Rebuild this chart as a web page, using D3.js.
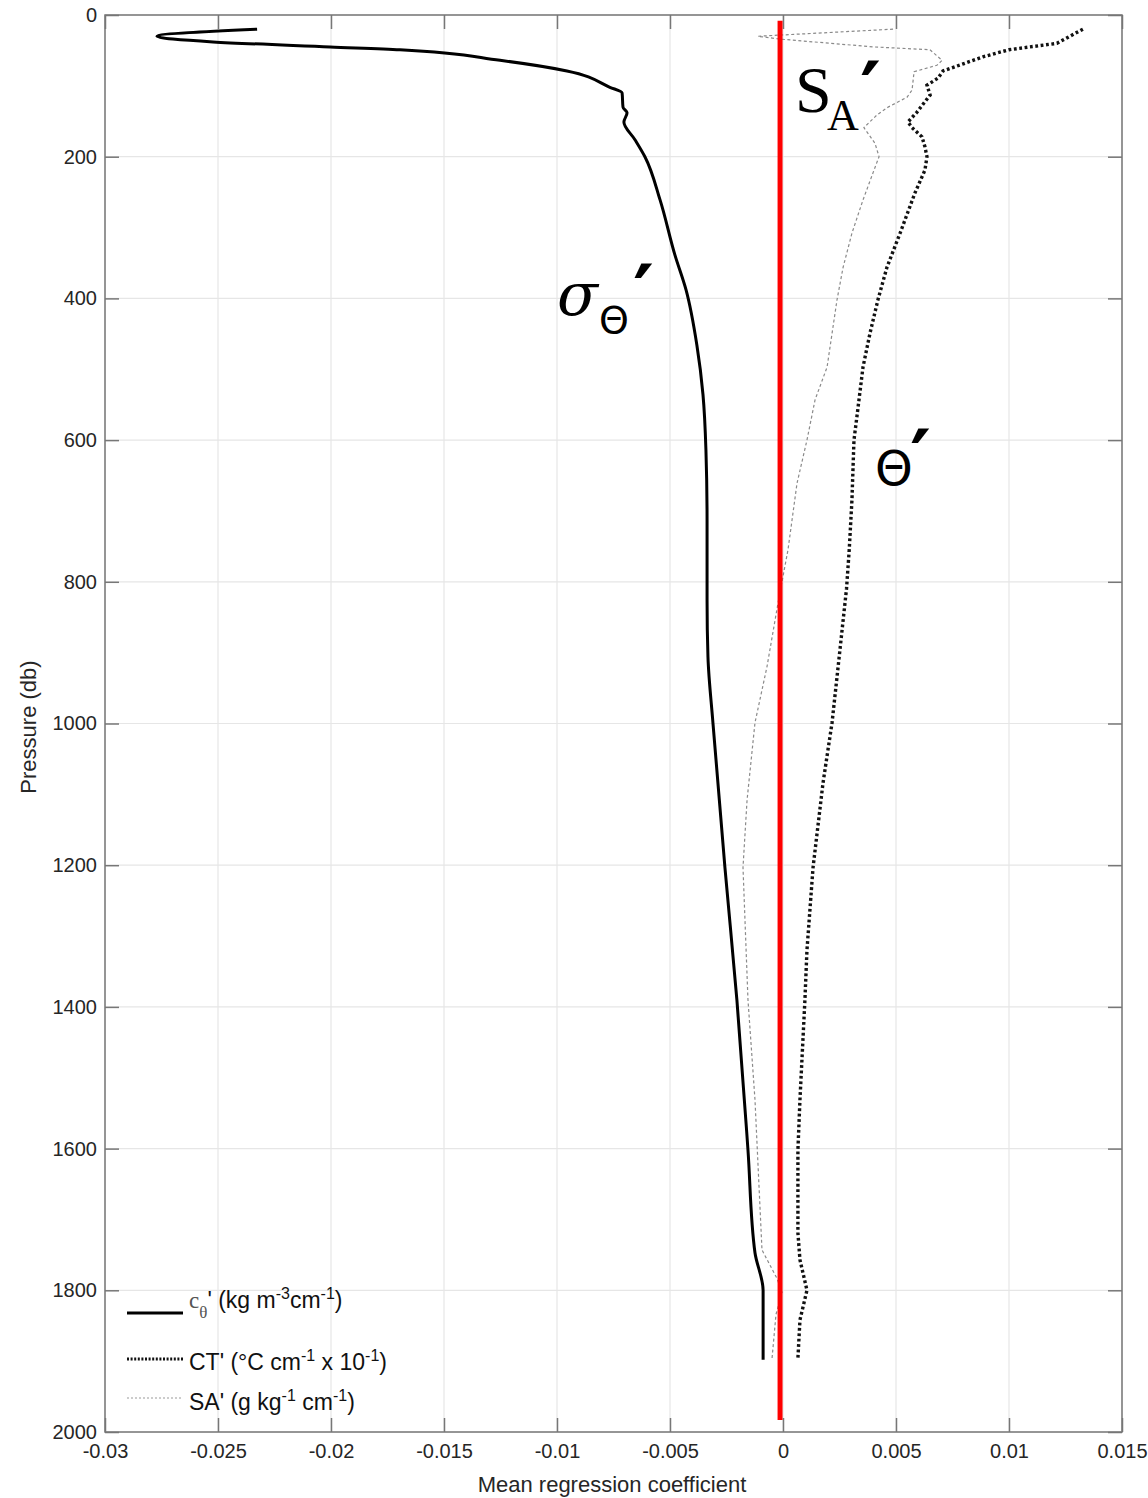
<!DOCTYPE html>
<html>
<head>
<meta charset="utf-8">
<script src="https://cdn.jsdelivr.net/npm/d3@7"></script>
<style>
  body { margin: 0; background: #fff; }
</style>
</head>
<body>
<div class="canvas"></div>
<script>
// tick labels
const xTicks = [-0.03, -0.025, -0.02, -0.015, -0.01, -0.005, 0, 0.005, 0.01, 0.015];
const xTickLabels = ['-0.03', '-0.025', '-0.02', '-0.015', '-0.01', '-0.005', '0', '0.005', '0.01', '0.015'];
const yTicks = [0, 200, 400, 600, 800, 1000, 1200, 1400, 1600, 1800, 2000];

// sigma-theta' (solid)
const sigmaP = [20, 30, 38, 45, 49, 64, 79, 102, 110, 130, 138, 151, 176, 200, 261, 339, 388, 466, 536, 614, 713, 826, 906, 999, 1203, 1390, 1602, 1747, 1800, 1898];
const sigmaV = [-0.02327, -0.0277, -0.02522, -0.02004, -0.01695, -0.01252, -0.00956, -0.00766, -0.00712, -0.00708, -0.0069, -0.00704, -0.00655, -0.00611, -0.00544, -0.00478, -0.00429, -0.00381, -0.00354, -0.00341, -0.00336, -0.00336, -0.00332, -0.0031, -0.00257, -0.00204, -0.00155, -0.00124, -0.00088, -0.00088];

// CT' (dotted)
const ctP = [20, 40, 49, 59, 69, 79, 89, 99, 113, 137, 151, 159, 172, 186, 200, 219, 251, 308, 356, 402, 449, 497, 567, 600, 685, 755, 810, 896, 999, 1084, 1203, 1320, 1390, 1531, 1602, 1719, 1757, 1800, 1842, 1896];
const ctV = [0.01327, 0.01212, 0.01, 0.00885, 0.00797, 0.00708, 0.00686, 0.00637, 0.00651, 0.00593, 0.00553, 0.00571, 0.00615, 0.00628, 0.00637, 0.00628, 0.00584, 0.00518, 0.0046, 0.0042, 0.00385, 0.00354, 0.00327, 0.00314, 0.00305, 0.00293, 0.00281, 0.00252, 0.00217, 0.00177, 0.00133, 0.00106, 0.00097, 0.00075, 0.00066, 0.00066, 0.00075, 0.00106, 0.00075, 0.00066];

// SA' (thin dashed grey)
const saP = [20, 30, 34, 45, 49, 64, 71, 80, 106, 116, 130, 141, 159, 181, 200, 223, 261, 308, 356, 402, 497, 543, 600, 661, 755, 830, 920, 999, 1108, 1203, 1390, 1531, 1743, 1783, 1803, 1834, 1898];
const saV = [0.00487, -0.00111, -0.00013, 0.00398, 0.0065, 0.00704, 0.00681, 0.0058, 0.00571, 0.00549, 0.00465, 0.00416, 0.00358, 0.00407, 0.00425, 0.00398, 0.00354, 0.00305, 0.00266, 0.00239, 0.00195, 0.00142, 0.00106, 0.00062, 0.00022, -0.00022, -0.00071, -0.00124, -0.00159, -0.00177, -0.00155, -0.00124, -0.00093, -0.00027, -0.00004, -0.00031, -0.00049];

// red reference line
const refX = -0.00013;
const refP = [8, 1983];

const svg = d3.select('.canvas')
  .append('svg')
  .attr('width', 1148)
  .attr('height', 1498)
  .attr('font-family', '"Liberation Sans", Arial, sans-serif');

const plotL = 105, plotR = 1122, plotT = 15, plotB = 1432;

const x = d3.scaleLinear().domain([-0.03, 0.015]).range([plotL, plotR]);
const y = d3.scaleLinear().domain([0, 2000]).range([plotT, plotB]);

// grid
const grid = svg.append('g');
grid.selectAll('line.gx').data(xTicks).enter().append('line')
  .attr('x1', d => x(d)).attr('x2', d => x(d))
  .attr('y1', plotT).attr('y2', plotB)
  .attr('stroke', '#e6e6e6').attr('stroke-width', 1.2);
grid.selectAll('line.gy').data(yTicks).enter().append('line')
  .attr('x1', plotL).attr('x2', plotR)
  .attr('y1', d => y(d)).attr('y2', d => y(d))
  .attr('stroke', '#e6e6e6').attr('stroke-width', 1.2);

// axes (ticks pointing inwards)
const xAxis = d3.axisBottom(x).tickValues(xTicks)
  .tickFormat((d, i) => xTickLabels[i]).tickSizeInner(-14).tickSizeOuter(0).tickPadding(12);
const yAxis = d3.axisLeft(y).tickValues(yTicks).tickFormat(d3.format('d'))
  .tickSizeInner(-14).tickSizeOuter(0).tickPadding(8);
const xTop = d3.axisTop(x).tickValues(xTicks).tickFormat('').tickSizeInner(-14).tickSizeOuter(0);
const yRight = d3.axisRight(y).tickValues(yTicks).tickFormat('').tickSizeInner(-14).tickSizeOuter(0);

const styleAxis = g => {
  g.select('.domain').remove();
  g.selectAll('line').attr('stroke', '#777').attr('stroke-width', 1.5);
  g.selectAll('text').attr('fill', '#262626').attr('font-size', 20)
    .attr('font-family', '"Liberation Sans", Arial, sans-serif');
};

svg.append('g').attr('transform', `translate(0, ${plotB})`).call(xAxis).call(styleAxis);
svg.append('g').attr('transform', `translate(${plotL}, 0)`).call(yAxis).call(styleAxis);
svg.append('g').attr('transform', `translate(0, ${plotT})`).call(xTop).call(styleAxis);
svg.append('g').attr('transform', `translate(${plotR}, 0)`).call(yRight).call(styleAxis);

svg.append('rect')
  .attr('x', plotL).attr('y', plotT)
  .attr('width', plotR - plotL).attr('height', plotB - plotT)
  .attr('fill', 'none').attr('stroke', '#777').attr('stroke-width', 1.5);

// axis titles
svg.append('text')
  .attr('x', 612).attr('y', 1492)
  .attr('text-anchor', 'middle').attr('font-size', 22).attr('fill', '#262626')
  .text('Mean regression coefficient');
svg.append('text')
  .attr('transform', 'translate(36, 727) rotate(-90)')
  .attr('text-anchor', 'middle').attr('font-size', 22).attr('fill', '#262626')
  .text('Pressure (db)');

// profiles
const line = d3.line().x(d => x(d[0])).y(d => y(d[1]));
const zip = (v, p) => v.map((d, i) => [d, p[i]]);

svg.append('path').datum(zip(saV, saP))
  .attr('d', line).attr('fill', 'none')
  .attr('stroke', '#8a8a8a').attr('stroke-width', 1.2).attr('stroke-dasharray', '3,2.5');

svg.append('path').datum(zip(ctV, ctP))
  .attr('d', line).attr('fill', 'none')
  .attr('stroke', '#111').attr('stroke-width', 3.4).attr('stroke-dasharray', '2.8,2.6');

svg.append('path').datum(zip(sigmaV, sigmaP))
  .attr('d', d3.line().x(d => x(d[0])).y(d => y(d[1])).curve(d3.curveMonotoneY))
  .attr('fill', 'none')
  .attr('stroke', '#000').attr('stroke-width', 3);

svg.append('line')
  .attr('x1', x(refX)).attr('x2', x(refX))
  .attr('y1', y(refP[0])).attr('y2', y(refP[1]))
  .attr('stroke', '#ff0000').attr('stroke-width', 5);

// legend
const legend = svg.append('g');
const legendItems = [
  { y: 1313, dash: null, width: 3, color: '#000' },
  { y: 1359, dash: '2,1.6', width: 3, color: '#111' },
  { y: 1398, dash: '2,2', width: 1, color: '#999' }
];
legend.selectAll('line').data(legendItems).enter().append('line')
  .attr('x1', 127).attr('x2', 183)
  .attr('y1', d => d.y).attr('y2', d => d.y)
  .attr('stroke', d => d.color).attr('stroke-width', d => d.width)
  .attr('stroke-dasharray', d => d.dash);

const t1 = legend.append('text').attr('x', 189).attr('y', 1308).attr('font-size', 23).attr('fill', '#111');
t1.append('tspan').attr('font-family', '"Liberation Serif", serif').attr('fill', '#555').text('c');
t1.append('tspan').attr('font-family', '"Liberation Serif", serif').attr('fill', '#555')
  .attr('font-size', 17).attr('dy', 10).text('θ');
t1.append('tspan').attr('dy', -10).text("' (kg m");
t1.append('tspan').attr('font-size', 16).attr('dy', -9).text('-3');
t1.append('tspan').attr('dy', 9).text('cm');
t1.append('tspan').attr('font-size', 16).attr('dy', -9).text('-1');
t1.append('tspan').attr('dy', 9).text(')');

const t2 = legend.append('text').attr('x', 189).attr('y', 1370).attr('font-size', 23).attr('fill', '#111');
t2.append('tspan').text("CT' (°C cm");
t2.append('tspan').attr('font-size', 16).attr('dy', -9).text('-1');
t2.append('tspan').attr('dy', 9).text(' x 10');
t2.append('tspan').attr('font-size', 16).attr('dy', -9).text('-1');
t2.append('tspan').attr('dy', 9).text(')');

const t3 = legend.append('text').attr('x', 189).attr('y', 1410).attr('font-size', 23).attr('fill', '#111');
t3.append('tspan').text("SA' (g kg");
t3.append('tspan').attr('font-size', 16).attr('dy', -9).text('-1');
t3.append('tspan').attr('dy', 9).text(' cm');
t3.append('tspan').attr('font-size', 16).attr('dy', -9).text('-1');
t3.append('tspan').attr('dy', 9).text(')');

// annotations
const ann = svg.append('g').attr('fill', '#000');
ann.append('text').attr('x', 557).attr('y', 315)
  .attr('font-family', '"DejaVu Serif", serif').attr('font-style', 'italic').attr('font-size', 60).text('σ');
ann.append('text').attr('x', 599).attr('y', 333)
  .attr('font-family', '"DejaVu Sans", sans-serif').attr('font-size', 38).text('Θ');
ann.append('text').attr('x', 633).attr('y', 322)
  .attr('font-family', '"DejaVu Sans", sans-serif').attr('font-weight', 'bold').attr('font-size', 80).text('′');

ann.append('text').attr('x', 795).attr('y', 112)
  .attr('font-family', '"Liberation Serif", serif').attr('font-size', 66).text('S');
ann.append('text').attr('x', 827).attr('y', 130)
  .attr('font-family', '"Liberation Serif", serif').attr('font-size', 44).text('A');
ann.append('text').attr('x', 860).attr('y', 119)
  .attr('font-family', '"DejaVu Sans", sans-serif').attr('font-weight', 'bold').attr('font-size', 80).text('′');

ann.append('text').attr('x', 875).attr('y', 485)
  .attr('font-family', '"DejaVu Sans", sans-serif').attr('font-size', 48).text('Θ');
ann.append('text').attr('x', 910).attr('y', 487)
  .attr('font-family', '"DejaVu Sans", sans-serif').attr('font-weight', 'bold').attr('font-size', 80).text('′');
</script>
</body>
</html>
